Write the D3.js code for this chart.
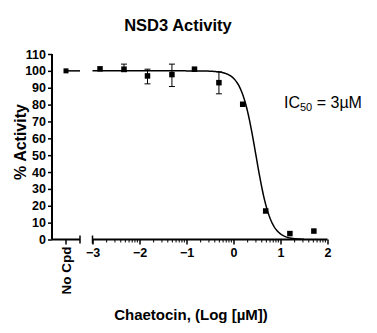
<!DOCTYPE html>
<html>
<head>
<meta charset="utf-8">
<script src="https://cdn.jsdelivr.net/npm/d3@7"></script>
<style>
  body { margin: 0; background: #fff; }
  svg { display: block; font-family: "Liberation Sans", Arial, sans-serif; }
</style>
</head>
<body>
<svg id="chart" width="377" height="333"></svg>
<script>
// Dose-response data: log10 concentration (µM) and % activity
const logConc   = [-2.84, -2.33, -1.83, -1.31, -0.83, -0.31, 0.196, 0.685, 1.2, 1.71];
const activity  = [101.2, 101.0, 97.0, 97.8, 101.0, 93.0, 80.2, 16.9, 3.5, 5.0];
const errLow    = [101.2, 99.5, 92.3, 90.7, 101.0, 86.4, 80.2, 16.9, 3.5, 5.0];
const errHigh   = [101.2, 104.0, 101.0, 104.0, 101.0, 99.4, 80.2, 16.9, 3.5, 5.0];
const noCpdValue = 100;
const yTicks = [0, 10, 20, 30, 40, 50, 60, 70, 80, 90, 100, 110];
const xTicks = [-3, -2, -1, 0, 1, 2];
const fitTop = 100, fitBottom = 0, ic50 = 3, hillSlope = 2.8;

const svg = d3.select("#chart");
const x = d3.scaleLinear().domain([-3, 2]).range([92.5, 327.5]);
const y = d3.scaleLinear().domain([0, 110]).range([239.5, 54]);
const xNoCpd = 66, noCpdEnd = 80, axisY = 239.5, axisX = 52;

// Title
svg.append("text").attr("x", 178).attr("y", 31).attr("text-anchor", "middle")
  .attr("font-size", 16.5).attr("font-weight", "bold").text("NSD3 Activity");

// Y axis
const yAxis = d3.axisLeft(y).tickValues(yTicks).tickSize(4).tickPadding(2);
const gy = svg.append("g").attr("transform", `translate(${axisX},0)`).call(yAxis);
gy.select(".domain").attr("stroke-width", 2).attr("d", `M0,${y(110)}V${axisY}`);
gy.selectAll(".tick line").attr("stroke-width", 1.5);
gy.selectAll(".tick text").attr("font-size", 12.5).attr("font-weight", "bold")
  .attr("font-family", "Liberation Sans, Arial, sans-serif").attr("fill", "#000");

svg.append("text").attr("transform", `translate(26,142) rotate(-90)`)
  .attr("text-anchor", "middle").attr("font-size", 16).attr("font-weight", "bold")
  .text("% Activity");

// No-compound segment of the x axis
const ax = svg.append("g").attr("stroke", "#000").attr("fill", "none");
ax.append("line").attr("x1", axisX).attr("x2", noCpdEnd).attr("y1", axisY).attr("y2", axisY).attr("stroke-width", 2);
ax.append("line").attr("x1", noCpdEnd).attr("x2", noCpdEnd).attr("y1", axisY - 4).attr("y2", axisY + 4).attr("stroke-width", 1.5);
ax.append("line").attr("x1", xNoCpd).attr("x2", xNoCpd).attr("y1", axisY).attr("y2", axisY + 5).attr("stroke-width", 1.5);
svg.append("text").attr("transform", `translate(${xNoCpd + 5},${axisY + 7}) rotate(-90)`)
  .attr("text-anchor", "end").attr("font-size", 13.5).attr("font-weight", "bold").text("No Cpd");

// Main log x axis with decade minor ticks
const xAxis = d3.axisBottom(x).tickValues(xTicks).tickSize(5).tickPadding(4).tickFormat(d3.format("d"));
const gx = svg.append("g").attr("transform", `translate(0,${axisY})`).call(xAxis);
gx.select(".domain").attr("stroke-width", 2).attr("d", `M${x(-3)},0H${x(2)}`);
gx.selectAll(".tick line").attr("stroke-width", 1.5);
gx.selectAll(".tick text").attr("font-size", 12.5).attr("font-weight", "bold")
  .attr("font-family", "Liberation Sans, Arial, sans-serif").attr("fill", "#000");
const minor = [];
for (let d = -3; d < 2; d++) for (let k = 2; k <= 9; k++) minor.push(d + Math.log10(k));
gx.selectAll(".minor").data(minor).join("line").attr("class", "minor")
  .attr("x1", d => x(d)).attr("x2", d => x(d)).attr("y1", 0).attr("y2", 3)
  .attr("stroke", "#000").attr("stroke-width", 1);
gx.append("line").attr("x1", x(-3)).attr("x2", x(-3)).attr("y1", -4).attr("y2", 4)
  .attr("stroke", "#000").attr("stroke-width", 1.5);

svg.append("text").attr("x", 191).attr("y", 320).attr("text-anchor", "middle")
  .attr("font-size", 15).attr("font-weight", "bold").text("Chaetocin, (Log [µM])");

// Fitted four-parameter logistic curve
const logIC50 = Math.log10(ic50);
const fit = v => fitBottom + (fitTop - fitBottom) / (1 + Math.pow(10, (v - logIC50) * hillSlope));
const curveX = d3.range(-3, 1.5001, 0.02);
svg.append("path").datum(curveX)
  .attr("d", d3.line().x(d => x(d)).y(d => y(fit(d))))
  .attr("fill", "none").attr("stroke", "#000").attr("stroke-width", 1.5);

// No-compound control mean line and point
svg.append("line").attr("x1", xNoCpd).attr("x2", noCpdEnd)
  .attr("y1", y(noCpdValue)).attr("y2", y(noCpdValue)).attr("stroke", "#000").attr("stroke-width", 1.5);
svg.append("rect").attr("x", xNoCpd - 2.5).attr("y", y(noCpdValue) - 2.5)
  .attr("width", 5).attr("height", 5).attr("fill", "#000");

// Error bars
const eb = svg.append("g").attr("stroke", "#000").attr("stroke-width", 1);
logConc.forEach((c, i) => {
  if (errHigh[i] - errLow[i] < 0.5) return;
  const cx = x(c);
  eb.append("line").attr("x1", cx).attr("x2", cx).attr("y1", y(errLow[i])).attr("y2", y(errHigh[i]));
  eb.append("line").attr("x1", cx - 3).attr("x2", cx + 3).attr("y1", y(errLow[i])).attr("y2", y(errLow[i]));
  eb.append("line").attr("x1", cx - 3).attr("x2", cx + 3).attr("y1", y(errHigh[i])).attr("y2", y(errHigh[i]));
});

// Data points
svg.append("g").selectAll("rect").data(logConc).join("rect")
  .attr("x", (d) => x(d) - 2.75).attr("y", (d, i) => y(activity[i]) - 2.75)
  .attr("width", 5.5).attr("height", 5.5).attr("fill", "#000");

// IC50 annotation
const ann = svg.append("text").attr("x", 284).attr("y", 108).attr("font-size", 16);
ann.append("tspan").text("IC");
ann.append("tspan").attr("font-size", 11).attr("dy", 3).text("50");
ann.append("tspan").attr("dy", -3).text(" = 3µM");
</script>
</body>
</html>
